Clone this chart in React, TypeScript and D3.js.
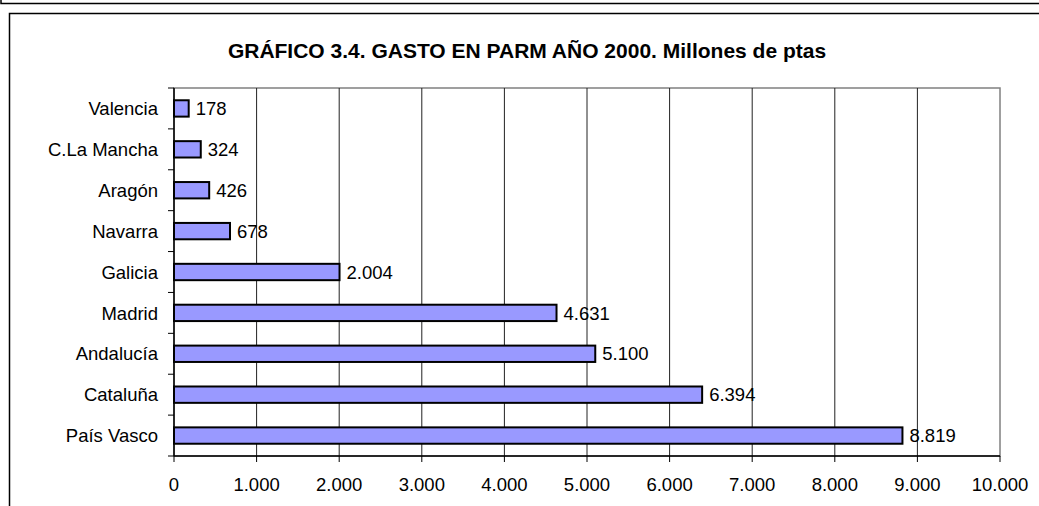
import React from "react";
import * as d3 from "d3";

const categories = ["Valencia", "C.La Mancha", "Aragón", "Navarra", "Galicia", "Madrid", "Andalucía", "Cataluña", "País Vasco"];
const values = [178, 324, 426, 678, 2004, 4631, 5100, 6394, 8819];
const xTicks = [0, 1000, 2000, 3000, 4000, 5000, 6000, 7000, 8000, 9000, 10000];
const title = "GRÁFICO 3.4. GASTO EN PARM AÑO 2000. Millones de ptas";

const W = 1039;
const H = 506;
const plot = { left: 174, right: 1000, top: 88, bottom: 456 };

const fmt = (v: number) => {
  const s = String(v);
  return s.replace(/\B(?=(\d{3})+(?!\d))/g, ".");
};

export default function App() {
  const x = d3.scaleLinear().domain([0, 10000]).range([plot.left, plot.right]);
  const y = d3.scaleBand<string>().domain(categories).range([plot.top, plot.bottom]).paddingInner(0.6).paddingOuter(0.3);
  const yb = d3.scaleBand<string>().domain(categories).range([plot.top, plot.bottom]);
  const font = "Arial, 'Liberation Sans', sans-serif";
  return (
    <svg width={W} height={H} style={{ position: "absolute", left: 0, top: 0, background: "#fff" }} fontFamily={font}>
      {/* previous frame bottom */}
      <path d={`M1,0 V3.5 H${W + 2}`} fill="none" stroke="#000" strokeWidth={1.5} />
      {/* chart frame */}
      <path d={`M9.5,${H + 2} V13.5 H${W + 2}`} fill="none" stroke="#000" strokeWidth={1.5} />
      <text x={527} y={57.7} textAnchor="middle" fontWeight="bold" fontSize={21}>{title}</text>
      {/* plot border */}
      <rect x={plot.left} y={plot.top} width={plot.right - plot.left} height={plot.bottom - plot.top} fill="#fff" stroke="#808080" strokeWidth={1.5} />
      {/* gridlines */}
      {xTicks.slice(1, -1).map((t) => (
        <line key={t} x1={x(t)} x2={x(t)} y1={plot.top} y2={plot.bottom} stroke="#222" strokeWidth={1} />
      ))}
      {/* bars */}
      {categories.map((c, i) => (
        <g key={c}>
          <rect x={x(0)} y={y(c)!} width={x(values[i]) - x(0)} height={y.bandwidth()} fill="#9999FF" stroke="#000" strokeWidth={2} />
          <text x={x(values[i]) + 7} y={y(c)! + y.bandwidth() / 2} dy="0.36em" fontSize={18.5}>{fmt(values[i])}</text>
          <text x={158} y={y(c)! + y.bandwidth() / 2} dy="0.36em" textAnchor="end" fontSize={18.5}>{c}</text>
        </g>
      ))}
      {/* left axis */}
      <line x1={plot.left} x2={plot.left} y1={plot.top} y2={plot.bottom} stroke="#000" strokeWidth={1.5} />
      {categories.map((c) => (
        <line key={"t" + c} x1={plot.left - 6} x2={plot.left} y1={yb(c)!} y2={yb(c)!} stroke="#000" strokeWidth={1} />
      ))}
      <line x1={plot.left - 6} x2={plot.left} y1={plot.bottom} y2={plot.bottom} stroke="#000" strokeWidth={1} />
      {/* bottom axis */}
      <line x1={plot.left} x2={plot.right} y1={plot.bottom} y2={plot.bottom} stroke="#000" strokeWidth={1.5} />
      {xTicks.map((t) => (
        <g key={"x" + t}>
          <line x1={x(t)} x2={x(t)} y1={plot.bottom} y2={plot.bottom + 6} stroke="#000" strokeWidth={1} />
          <text x={x(t)} y={484} dy="0.36em" textAnchor="middle" fontSize={18.5}>{fmt(t)}</text>
        </g>
      ))}
    </svg>
  );
}
